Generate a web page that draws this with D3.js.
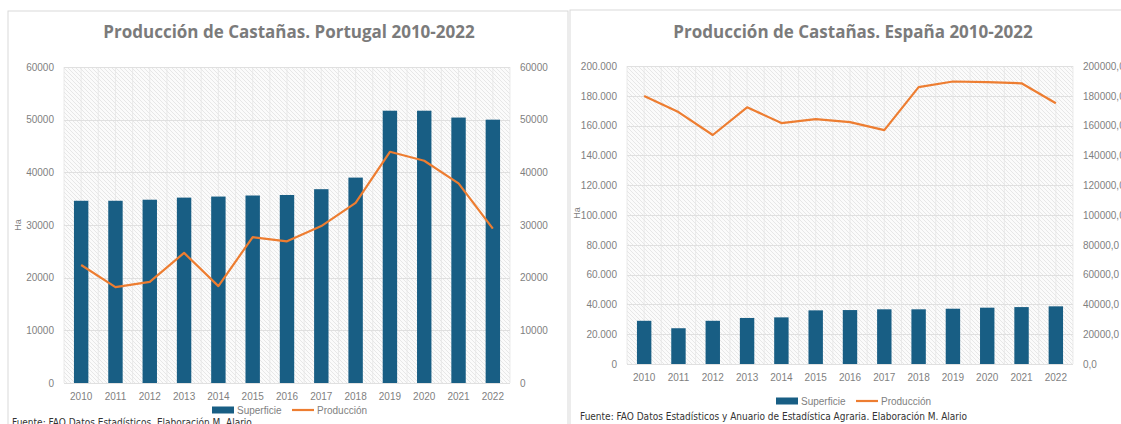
<!DOCTYPE html>
<html>
<head>
<meta charset="utf-8">
<script src="https://cdn.jsdelivr.net/npm/d3@7"></script>
<style>
  html, body { margin: 0; padding: 0; background: #fff; overflow: hidden; }
</style>
</head>
<body>
<script>
// years shared by both charts
const years = ["2010", "2011", "2012", "2013", "2014", "2015", "2016",
               "2017", "2018", "2019", "2020", "2021", "2022"];

// Portugal (ha / t)
const ptSuperficie = [34600, 34600, 34800, 35200, 35400, 35600, 35700, 36800, 39000, 51700, 51700, 50400, 50000];
const ptProduccion = [22400, 18200, 19200, 24700, 18400, 27700, 26900, 29800, 34200, 43900, 42200, 37900, 29300];
const ptTicks = [0, 10000, 20000, 30000, 40000, 50000, 60000];

// España (ha / t)
const esSuperficie = [29000, 24000, 29000, 30900, 31300, 36000, 36200, 36700, 36700, 37100, 37800, 38200, 38700];
const esProduccion = [179800, 169100, 153700, 172300, 161700, 164300, 162300, 157000, 185800, 189600, 189200, 188400, 175000];
const esTicks = [0, 20000, 40000, 60000, 80000, 100000, 120000, 140000, 160000, 180000, 200000];

const W = 1121, H = 424;
const barColor = "#185e84", lineColor = "#ed7d31";
const tickColor = "#7f7f7f", gridColor = "#e0e0e0";
const font = "'Liberation Sans', Arial, sans-serif";

const svg = d3.select("body").append("svg")
  .attr("width", W).attr("height", H)
  .style("display", "block");

// diagonal hatch used as plot background
const pat = svg.append("defs").append("pattern")
  .attr("id", "hatch")
  .attr("patternUnits", "userSpaceOnUse")
  .attr("width", 4).attr("height", 4);
pat.append("rect").attr("width", 4).attr("height", 4).attr("fill", "#fbfbfb");
pat.append("path")
  .attr("d", "M-1,-1 L5,5 M-1,3 L1,5 M3,-1 L5,1")
  .attr("stroke", "#e2e2e2").attr("stroke-width", 0.8);

const dotThousands = d3.formatLocale({ decimal: ",", thousands: ".", grouping: [3], currency: ["", "€"] });

function drawChart(cfg) {
  const g = svg.append("g");

  // panel frame
  g.append("rect")
    .attr("x", cfg.panel[0]).attr("y", cfg.panel[1])
    .attr("width", cfg.panel[2]).attr("height", cfg.panel[3])
    .attr("fill", "#fff").attr("stroke", "#d9d9d9").attr("stroke-width", 1);

  const x = d3.scaleBand().domain(years).range([cfg.left, cfg.right]).paddingInner(0);
  const y = d3.scaleLinear().domain([0, cfg.max]).range([cfg.bottom, cfg.top]);

  // plot background
  g.append("rect")
    .attr("x", cfg.left).attr("y", cfg.top)
    .attr("width", cfg.right - cfg.left).attr("height", cfg.bottom - cfg.top)
    .attr("fill", "url(#hatch)");

  // vertical grid at band edges and centres
  const vx = [];
  years.forEach(d => { vx.push(x(d)); vx.push(x(d) + x.bandwidth() / 2); });
  vx.push(cfg.right);
  g.append("g").selectAll("line").data(vx).join("line")
    .attr("x1", d => d).attr("x2", d => d)
    .attr("y1", cfg.top).attr("y2", cfg.bottom)
    .attr("stroke", "#e6e6e6").attr("stroke-width", 0.8);

  // horizontal grid
  g.append("g").selectAll("line").data(cfg.ticks).join("line")
    .attr("x1", cfg.left).attr("x2", cfg.right)
    .attr("y1", d => Math.round(y(d)) + 0.5).attr("y2", d => Math.round(y(d)) + 0.5)
    .attr("stroke", gridColor).attr("stroke-width", 1);

  // bars
  const bw = x.bandwidth() * 0.42;
  g.append("g").selectAll("rect").data(cfg.bars).join("rect")
    .attr("x", (d, i) => x(years[i]) + (x.bandwidth() - bw) / 2)
    .attr("y", d => y(d))
    .attr("width", bw)
    .attr("height", d => cfg.bottom - y(d))
    .attr("fill", barColor);

  // line (secondary axis, same range)
  const line = d3.line()
    .x((d, i) => x(years[i]) + x.bandwidth() / 2)
    .y(d => y(d));
  g.append("path").datum(cfg.line)
    .attr("d", line)
    .attr("fill", "none").attr("stroke", lineColor)
    .attr("stroke-width", 2.2).attr("stroke-linejoin", "round");

  // left axis
  const axL = d3.axisLeft(y).tickValues(cfg.ticks).tickFormat(cfg.fmtL).tickSize(0).tickPadding(10);
  const gl = g.append("g").attr("transform", `translate(${cfg.left},0)`).call(axL);
  // right axis
  const axR = d3.axisRight(y).tickValues(cfg.ticks).tickFormat(cfg.fmtR).tickSize(0).tickPadding(10);
  const gr = g.append("g").attr("transform", `translate(${cfg.right},0)`).call(axR);
  // bottom axis
  const axB = d3.axisBottom(x).tickSize(0).tickPadding(10);
  const gb = g.append("g").attr("transform", `translate(0,${cfg.bottom})`).call(axB);
  [gl, gr, gb].forEach(a => {
    a.select(".domain").remove();
    a.selectAll("text").attr("fill", tickColor).style("font-size", "10px").style("font-family", font);
  });

  // y title
  g.append("text")
    .attr("transform", `translate(${cfg.haX},${cfg.haY}) rotate(-90)`)
    .attr("text-anchor", "middle")
    .attr("fill", tickColor).style("font-size", "9px").style("font-family", font)
    .text("Ha");

  // title
  g.append("text")
    .attr("x", cfg.titleX).attr("y", cfg.titleY)
    .attr("text-anchor", "middle")
    .attr("fill", "#7b7b7b").style("font-size", "17px").style("font-weight", "bold")
    .style("font-family", "'Open Sans', 'Noto Sans', sans-serif")
    .text(cfg.title);

  // legend
  const lg = g.append("g").attr("transform", `translate(${cfg.legX},${cfg.legY})`);
  lg.append("rect").attr("x", 0).attr("y", -3.5).attr("width", 22).attr("height", 7).attr("fill", barColor);
  lg.append("text").attr("x", 25).attr("y", 3.5).attr("fill", tickColor)
    .style("font-size", "10px").style("font-family", font).text("Superficie");
  lg.append("line").attr("x1", 80).attr("x2", 102).attr("y1", 0).attr("y2", 0)
    .attr("stroke", lineColor).attr("stroke-width", 2.2);
  lg.append("text").attr("x", 105).attr("y", 3.5).attr("fill", tickColor)
    .style("font-size", "10px").style("font-family", font).text("Producción");

  // source
  g.append("text")
    .attr("x", cfg.srcX).attr("y", cfg.srcY)
    .attr("fill", "#333").style("font-size", "10px")
    .style("font-family", "'Liberation Sans Narrow', 'DejaVu Sans Condensed', sans-serif")
    .text(cfg.source);
}

drawChart({
  panel: [8, 11, 560, 430],
  left: 64, right: 510, top: 67, bottom: 383, max: 60000,
  ticks: ptTicks, bars: ptSuperficie, line: ptProduccion,
  fmtL: d3.format("d"), fmtR: d3.format("d"),
  haX: 21, haY: 225,
  title: "Producción de Castañas. Portugal 2010-2022", titleX: 289, titleY: 38,
  legX: 212, legY: 410,
  source: "Fuente: FAO Datos Estadísticos. Elaboración M. Alario", srcX: 12, srcY: 426
});

drawChart({
  panel: [570, 10, 600, 430],
  left: 627, right: 1073, top: 66, bottom: 364, max: 200000,
  ticks: esTicks, bars: esSuperficie, line: esProduccion,
  fmtL: dotThousands.format(",d"), fmtR: d => dotThousands.format(".1f")(d),
  haX: 580, haY: 213,
  title: "Producción de Castañas. España 2010-2022", titleX: 853, titleY: 38,
  legX: 776, legY: 401,
  source: "Fuente: FAO Datos Estadísticos y Anuario de Estadística Agraria. Elaboración M. Alario", srcX: 580, srcY: 420
});
</script>
</body>
</html>
